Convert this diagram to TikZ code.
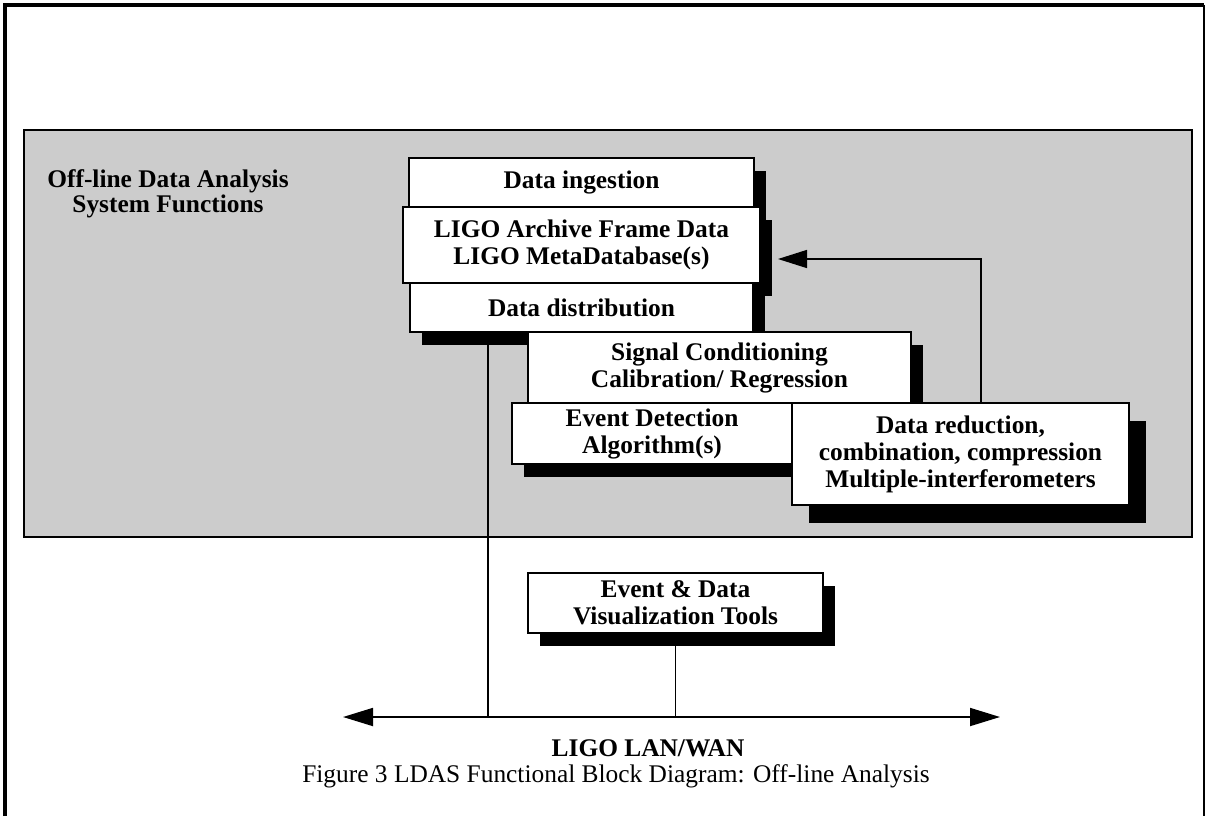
\documentclass[tikz,border=0pt]{standalone}
\usepackage{fontspec}
\setmainfont{Liberation Serif}
\usepackage{tikz}
\usetikzlibrary{positioning}
\usetikzlibrary{shapes,arrows.meta,shadows}
\definecolor{panelgray}{gray}{0.80}
\tikzstyle{box} = [rectangle, draw, fill=white, line width=0.8pt, inner sep=0pt, outer sep=0pt,
                align=center, font=\fontsize{12.7}{13.5}\selectfont\bfseries]
\tikzstyle{block} = [box, drop shadow={shadow xshift=6pt, shadow yshift=-6.5pt, fill=black, opacity=1}]
\tikzstyle{bigblock} = [box, drop shadow={shadow xshift=8.5pt, shadow yshift=-9pt, fill=black, opacity=1}]
\tikzstyle{line} = [draw, line width=0.7pt, -{Triangle[length=14.5pt,width=9pt]}]
\tikzstyle{both} = [draw, line width=0.9pt, {Triangle[length=15pt,width=9pt]}-{Triangle[length=15pt,width=9pt]}]

\begin{document}
\begin{tikzpicture}[x=0.5pt,y=-0.5pt]
        \useasboundingbox (0,0) rectangle (1206,816);
        \draw[line width=2pt] (5,816) -- (5,5) -- (1204,5);
        \draw[line width=1pt] (1204,5) -- (1204,816);
        \filldraw[fill=panelgray, draw=black, line width=0.6pt] (24,130) rectangle (1192,537);
        \node[align=center, font=\fontsize{12.7}{12.5}\selectfont\bfseries](title) at (168,194){Off-line Data Analysis\\System Functions};
        \node[block, minimum width=172.5pt, minimum height=24.5pt](ingest) at (581.5,182.5){Data ingestion};
        \node[block, minimum width=178.5pt, minimum height=38pt, below=0pt of ingest](archive){LIGO Archive Frame Data\\LIGO MetaDatabase(s)};
        \node[block, minimum width=171.5pt, minimum height=24.5pt, below=0pt of archive](distrib){Data distribution};
        \node[block, minimum width=191.5pt, minimum height=35.5pt, anchor=north west](signal) at (528,332){Signal Conditioning\\Calibration/ Regression};
        \node[block, minimum width=140pt, minimum height=30.5pt, anchor=north west](detect) at (512,403){Event Detection\\Algorithm(s)};
        \node[bigblock, minimum width=168.5pt, minimum height=51pt, right=0pt of detect.north east, anchor=north west](reduce){Data reduction,\\combination, compression\\Multiple-interferometers};
        \node[block, minimum width=147.5pt, minimum height=30pt](vis) at (675.5,603){Event \& Data\\Visualization Tools};
        \coordinate (lanw) at (343,717);
        \coordinate (lane) at (1000,717);
        \coordinate (distout) at ([xshift=-46.75pt]distrib.south);
        \coordinate (archin) at ([xshift=9pt,yshift=-7pt]archive.east);
        \path[both] (lanw) -- (lane);
        \draw[line width=0.7pt] (distout) -- (distout |- lanw);
        \draw[line width=0.7pt] (vis.south) -- (vis.south |- lanw);
        \path[line] ([xshift=10.25pt]reduce.north) |- (archin);
        \node[font=\fontsize{12.7}{13.5}\selectfont\bfseries](lan) at (648,748){LIGO LAN/WAN};
        \node[font=\fontsize{12.7}{13.5}\selectfont](caption) at (616,776){Figure 3 LDAS Functional Block Diagram: Off-line Analysis};
\end{tikzpicture}
\end{document}
